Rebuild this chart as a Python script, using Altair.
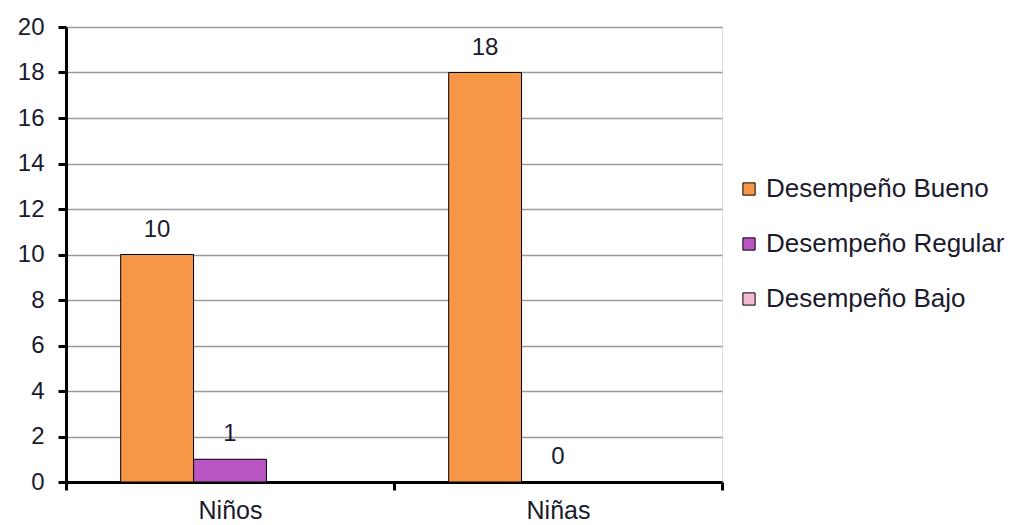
import altair as alt
import pandas as pd

categories = ["Niños", "Niñas"]
series = ["Desempeño Bueno", "Desempeño Regular", "Desempeño Bajo"]
bueno = [10, 18]
regular = [1, 0]
bajo = [None, None]
colors = ["#F79646", "#BA56C4", "#F4B8D2"]

rows = []
for i, c in enumerate(categories):
    for s, vals in zip(series, [bueno, regular, bajo]):
        if vals[i] is not None:
            rows.append({"grupo": c, "serie": s, "valor": vals[i]})
df = pd.DataFrame(rows)

FONT = "Liberation Sans"
TXT = "#1a1a2e"

base = alt.Chart(df).encode(
    x=alt.X("grupo:N", sort=categories, title=None,
            scale=alt.Scale(paddingInner=0, paddingOuter=0),
            axis=alt.Axis(labelAngle=0, labelFontSize=25, labelFont=FONT,
                          labelColor=TXT, domainColor="black", domainWidth=3,
                          tickColor="black", tickWidth=3, tickSize=8, tickBand="extent",
                          labelPadding=8, grid=False)),
    xOffset=alt.XOffset("serie:N", sort=series,
                        scale=alt.Scale(domain=series, paddingOuter=0.75, paddingInner=0)),
)

bars = base.mark_bar(stroke="black", strokeWidth=1).encode(
    y=alt.Y("valor:Q", title=None,
            scale=alt.Scale(domain=[0, 20], nice=False),
            axis=alt.Axis(values=list(range(0, 21, 2)), labelFontSize=24, labelFont=FONT,
                          labelColor=TXT, domainColor="black", domainWidth=3,
                          tickColor="black", tickWidth=3, tickSize=8, labelPadding=14,
                          gridColor="#9a9a9a", gridWidth=1.5)),
    color=alt.Color("serie:N", sort=series,
                    scale=alt.Scale(domain=series, range=colors),
                    legend=alt.Legend(title=None, orient="none", legendX=670, legendY=149,
                                      symbolType="square", symbolSize=150,
                                      symbolStrokeColor="black", symbolStrokeWidth=1,
                                      labelFontSize=26, labelFont=FONT, labelColor=TXT,
                                      labelLimit=400, rowPadding=29, labelOffset=4)),
)

labels = base.mark_text(dy=-25, fontSize=24, font=FONT, color=TXT).encode(
    y=alt.Y("valor:Q"),
    text=alt.Text("valor:Q"),
)

chart = alt.layer(bars, labels).properties(
    width=656, height=455,
    autosize=alt.AutoSizeParams(type="none"),
    padding={"left": 58, "top": 19, "right": 290, "bottom": 40},
).configure_view(stroke=None).configure(background="white")

chart.save("out.html", embed_options={"renderer": "svg", "actions": False})
